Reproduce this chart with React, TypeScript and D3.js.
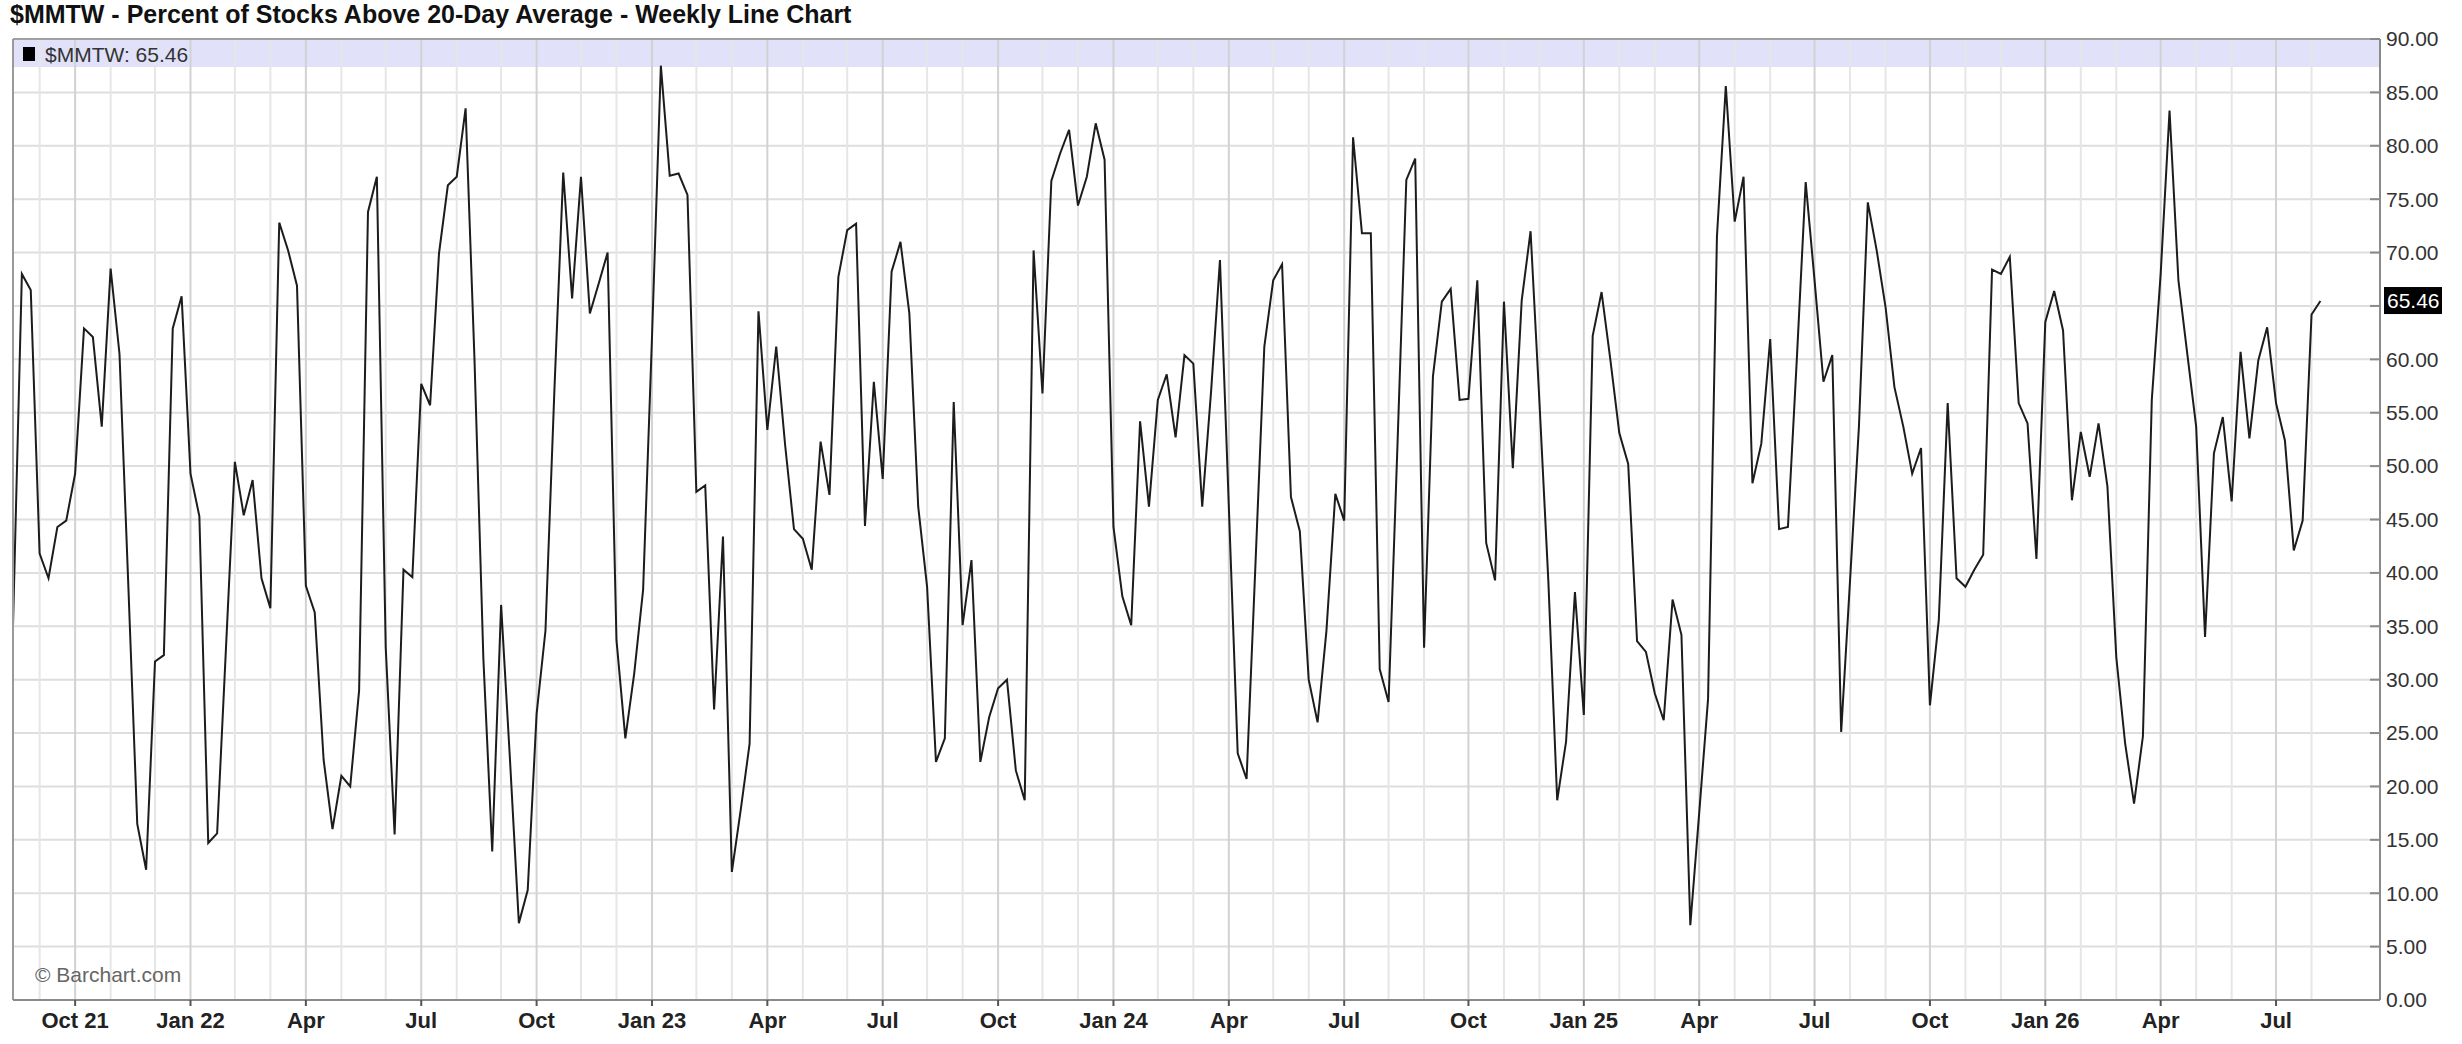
import * as d3 from "d3";
import React from "react";

const title = "$MMTW - Percent of Stocks Above 20-Day Average - Weekly Line Chart"
const symbol = "$MMTW"

// first weekly bar (Monday) and weekly readings
const startDate = new Date(2021, 7, 16)
const values = [
  35.0, 68.0, 66.5, 41.8, 39.5, 44.3, 44.9, 49.3, 62.9, 62.1,
  53.7, 68.5, 60.5, 38.7, 16.5, 12.2, 31.7, 32.3, 62.9, 65.9,
  49.3, 45.3, 14.7, 15.6, 33.0, 50.4, 45.4, 48.7, 39.5, 36.7,
  72.8, 70.2, 66.9, 38.8, 36.3, 22.5, 16.0, 21.0, 20.0, 29.0,
  73.8, 77.1, 33.0, 15.5, 40.3, 39.6, 57.7, 55.7, 69.9, 76.3,
  77.1, 83.5, 60.0, 32.0, 13.9, 37.0, 22.5, 7.2, 10.3, 26.8,
  34.6, 57.0, 77.5, 65.7, 77.1, 64.3, 67.1, 70.0, 33.7, 24.5,
  30.6, 38.4, 62.0, 87.5, 77.2, 77.4, 75.4, 47.6, 48.2, 27.2,
  43.4, 12.0, 17.8, 24.0, 64.5, 53.4, 61.2, 52.0, 44.1, 43.2,
  40.3, 52.3, 47.3, 67.7, 72.1, 72.7, 44.4, 57.9, 48.8, 68.2,
  71.0, 64.3, 46.2, 38.7, 22.3, 24.5, 56.0, 35.1, 41.2, 22.3,
  26.5, 29.2, 30.0, 21.5, 18.7, 70.2, 56.8, 76.7, 79.3, 81.5,
  74.4, 77.1, 82.1, 78.7, 44.3, 37.8, 35.1, 54.2, 46.2, 56.2,
  58.6, 52.7, 60.4, 59.6, 46.2, 57.0, 69.3, 46.2, 23.1, 20.7,
  40.8, 61.2, 67.4, 68.9, 47.1, 43.9, 30.0, 26.0, 34.6, 47.4,
  44.9, 80.8, 71.8, 71.8, 31.0, 27.9, 51.9, 76.8, 78.8, 33.0,
  58.4, 65.4, 66.6, 56.2, 56.3, 67.4, 42.8, 39.3, 65.4, 49.8,
  65.5, 72.0, 56.0, 39.3, 18.7, 24.2, 38.2, 26.7, 62.2, 66.3,
  59.9, 53.1, 50.2, 33.6, 32.6, 28.7, 26.2, 37.5, 34.2, 7.0,
  17.5, 28.2, 71.5, 85.6, 72.9, 77.1, 48.4, 52.1, 61.9, 44.1,
  44.3, 60.0, 76.6, 67.4, 57.9, 60.4, 25.1, 39.3, 53.7, 74.7,
  70.2, 64.9, 57.4, 53.7, 49.3, 51.7, 27.6, 35.6, 55.9, 39.5,
  38.7, 40.3, 41.7, 68.4, 68.0, 69.6, 55.9, 54.0, 41.3, 63.5,
  66.4, 62.7, 46.8, 53.2, 49.0, 54.0, 48.1, 32.1, 24.0, 18.4,
  24.7, 56.2, 68.0, 83.3, 67.4, 60.5, 53.7, 34.0, 51.2, 54.6,
  46.7, 60.7, 52.6, 59.9, 63.0, 55.9, 52.4, 42.1, 44.9, 64.2,
  65.46,
]

const quarterLabels = [
  "Oct 21", "Jan 22", "Apr", "Jul", "Oct",
  "Jan 23", "Apr", "Jul", "Oct",
  "Jan 24", "Apr", "Jul", "Oct",
  "Jan 25", "Apr", "Jul", "Oct",
  "Jan 26", "Apr", "Jul",
]

const yTicks = d3.range(0, 91, 5)

const W = 2462
const H = 1044
const plot = { left: 13, right: 2380, top: 39, bottom: 1000 }
const font = "'Liberation Sans', Arial, sans-serif"

export function App() {
  const dates = values.map((_, i) => d3.timeMonday.offset(startDate, i))

  const x = d3.scaleTime()
    .domain([startDate, d3.timeDay.offset(startDate, 1867)])
    .range([plot.left, plot.right])

  const y = d3.scaleLinear().domain([0, 90]).range([plot.bottom, plot.top])

  const line = d3.line<number>()
    .x((d, i) => x(dates[i]))
    .y(d => y(d))

  // first bar of each month gets a grid line
  const monthStarts = dates.filter((d, i) => i > 0 && d.getMonth() !== dates[i - 1].getMonth())
  const quarterStarts = monthStarts.filter(d => d.getMonth() % 3 === 0)

  const last = values[values.length - 1]

  return (
    <div style={{ position: "absolute", left: 0, top: 0 }}>
      <svg width={W} height={H} style={{ display: "block", background: "#fff" }} fontFamily={font}>
        <text x={10} y={23} fontSize={25} fontWeight="bold" fill="#111">{title}</text>

        <rect x={plot.left} y={plot.top} width={plot.right - plot.left} height={28} fill="#e1e1fa" />

        {yTicks.filter(t => t > 0 && t < 90).map(t =>
          <line key={"h" + t} x1={plot.left} x2={plot.right} y1={y(t)} y2={y(t)} stroke="#dedede" strokeWidth={2} />
        )}
        {monthStarts.map((d, i) => {
          const q = d.getMonth() % 3 === 0
          return <line key={"v" + i} x1={x(d)} x2={x(d)} y1={plot.top} y2={plot.bottom}
            stroke={q ? "#d2d2d2" : "#e6e6e6"} strokeWidth={2} />
        })}

        <rect x={23} y={47} width={12} height={14} fill="#000" />
        <text x={45} y={62} fontSize={21} fill="#333">{`${symbol}: ${last.toFixed(2)}`}</text>

        <text x={35} y={982} fontSize={21} fill="#666">© Barchart.com</text>

        <path d={line(values) ?? ""} fill="none" stroke="#1c1c1c" strokeWidth={2} strokeLinejoin="miter" />

        <line x1={plot.left} x2={plot.right} y1={plot.top} y2={plot.top} stroke="#a0a0a0" strokeWidth={2} />
        <line x1={plot.left} x2={plot.left} y1={plot.top} y2={plot.bottom} stroke="#9a9a9a" strokeWidth={2} />
        <line x1={plot.left} x2={plot.right} y1={plot.bottom} y2={plot.bottom} stroke="#8a8a8a" strokeWidth={2} />
        <line x1={plot.right} x2={plot.right} y1={plot.top} y2={plot.bottom} stroke="#8a8a8a" strokeWidth={2} />

        {yTicks.map(t =>
          <g key={"y" + t}>
            <line x1={plot.right - 10} x2={plot.right} y1={y(t)} y2={y(t)} stroke="#8a8a8a" strokeWidth={2} />
            <text x={plot.right + 6} y={y(t)} dy="0.35em" fontSize={21} fill="#333">{t.toFixed(2)}</text>
          </g>
        )}

        <rect x={plot.right + 4} y={y(last) - 14} width={58} height={27} fill="#000" />
        <text x={plot.right + 7} y={y(last)} dy="0.35em" fontSize={21} fill="#fff">{last.toFixed(2)}</text>

        {quarterStarts.map((d, i) =>
          <g key={"q" + i} transform={`translate(${x(d)},0)`}>
            <line y1={plot.bottom} y2={plot.bottom + 6} stroke="#555" strokeWidth={2} />
            <text y={1028} textAnchor="middle" fontSize={22} fontWeight="bold" fill="#222">{quarterLabels[i]}</text>
          </g>
        )}
      </svg>
    </div>
  );
}

export default App;
